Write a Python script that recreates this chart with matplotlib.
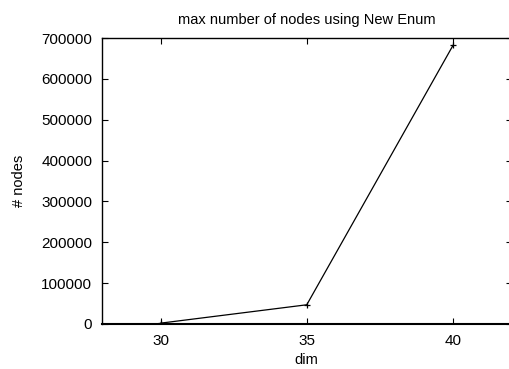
import matplotlib

matplotlib.use("Agg")
import matplotlib.pyplot as plt

plt.rcParams["font.family"] = ["Liberation Sans", "DejaVu Sans"]

dims = [30, 35, 40]
nodes = [2000, 47000, 682000]
yticks = [0, 100000, 200000, 300000, 400000, 500000, 600000, 700000]
xticks = [30, 35, 40]

fig = plt.figure(figsize=(5.10, 3.69), dpi=100)
ax = fig.add_axes([0.2, 0.122, 0.803, 0.775])
ax.set_xlim(28, 42)
ax.set_ylim(0, 700000)

ax.plot(dims, nodes, color="black", linewidth=0.9, marker="+", markersize=5, markeredgewidth=0.9)

ax.set_xticks(xticks)
ax.set_yticks(yticks)
ax.tick_params(direction="in", top=True, right=True, length=4, width=0.8, labelsize=11, pad=7)
for s in ax.spines.values():
    s.set_linewidth(1.0)
ax.spines["bottom"].set_linewidth(1.5)
ax.spines["right"].set_visible(False)

ax.set_title("max number of nodes using New Enum", fontsize=10.5, pad=10)
ax.set_xlabel("dim", fontsize=10.5, labelpad=4)
ax.set_ylabel("# nodes", fontsize=10.5, labelpad=11)

fig.savefig("out.png", dpi=100)
